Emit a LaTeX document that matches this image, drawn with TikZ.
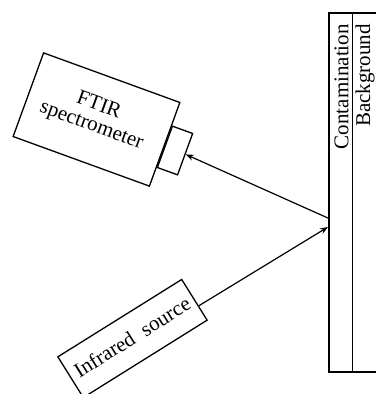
\documentclass[tikz,border=0pt]{standalone}
\usepackage{fontspec}
\setmainfont{Liberation Serif}
\usetikzlibrary{arrows.meta,calc}
\begin{document}
\begin{tikzpicture}[x=1pt,y=-1pt,
  box/.style={draw,line width=1.3pt,inner sep=0pt,minimum width=#1},
  lbl/.style={font=\fontsize{21}{21}\selectfont,inner sep=0pt,align=center},
  ray/.style={line width=1.2pt},
  arr/.style={ray,-{Stealth[length=8pt,width=6pt]}}]
\useasboundingbox (0,0) rectangle (376,394);
% mirror strip
\coordinate (mtl) at (376,13);
\coordinate (mlt) at (329,13);
\coordinate (mlb) at (329,372);
\coordinate (mbr) at (376,372);
\coordinate (mmt) at (352.7,13);
\coordinate (mmb) at (352.7,372);
\draw[line width=1.3pt] (mtl) -- (mlt) -- (mlb) -- (mbr);
\draw[line width=1.3pt] (mmt) -- (mmb);
\node[lbl,rotate=90,anchor=east] (cont) at (341.5,24) {Contamination};
\node[lbl,rotate=90,anchor=east] (bg) at (365,24) {Background};
% FTIR
\node[box=145pt,minimum height=89pt,rotate=-20] (ftir) at (96.5,119.5) {};
\node[lbl,rotate=-20] (ftirtxt) at (95,116) {FTIR\\spectrometer};
\node[box=21.5pt,minimum height=44pt,rotate=-20] (det) at (175,150.5) {};
% Infrared source
\node[box=146pt,minimum height=48pt,rotate=32] (ir) at (132.5,338.5) {};
\node[lbl,rotate=32] (irtxt) at (132,337) {Infrared\ \ source};
% rays
\coordinate (hit) at (328,227);
\coordinate (refl) at (329,218.5);
\coordinate (irout) at ($(ir.east)!0.3!(ir.south east)$);
\draw[arr] (irout) -- (hit);
\draw[arr] (refl) -- (det.east);
\end{tikzpicture}
\end{document}
